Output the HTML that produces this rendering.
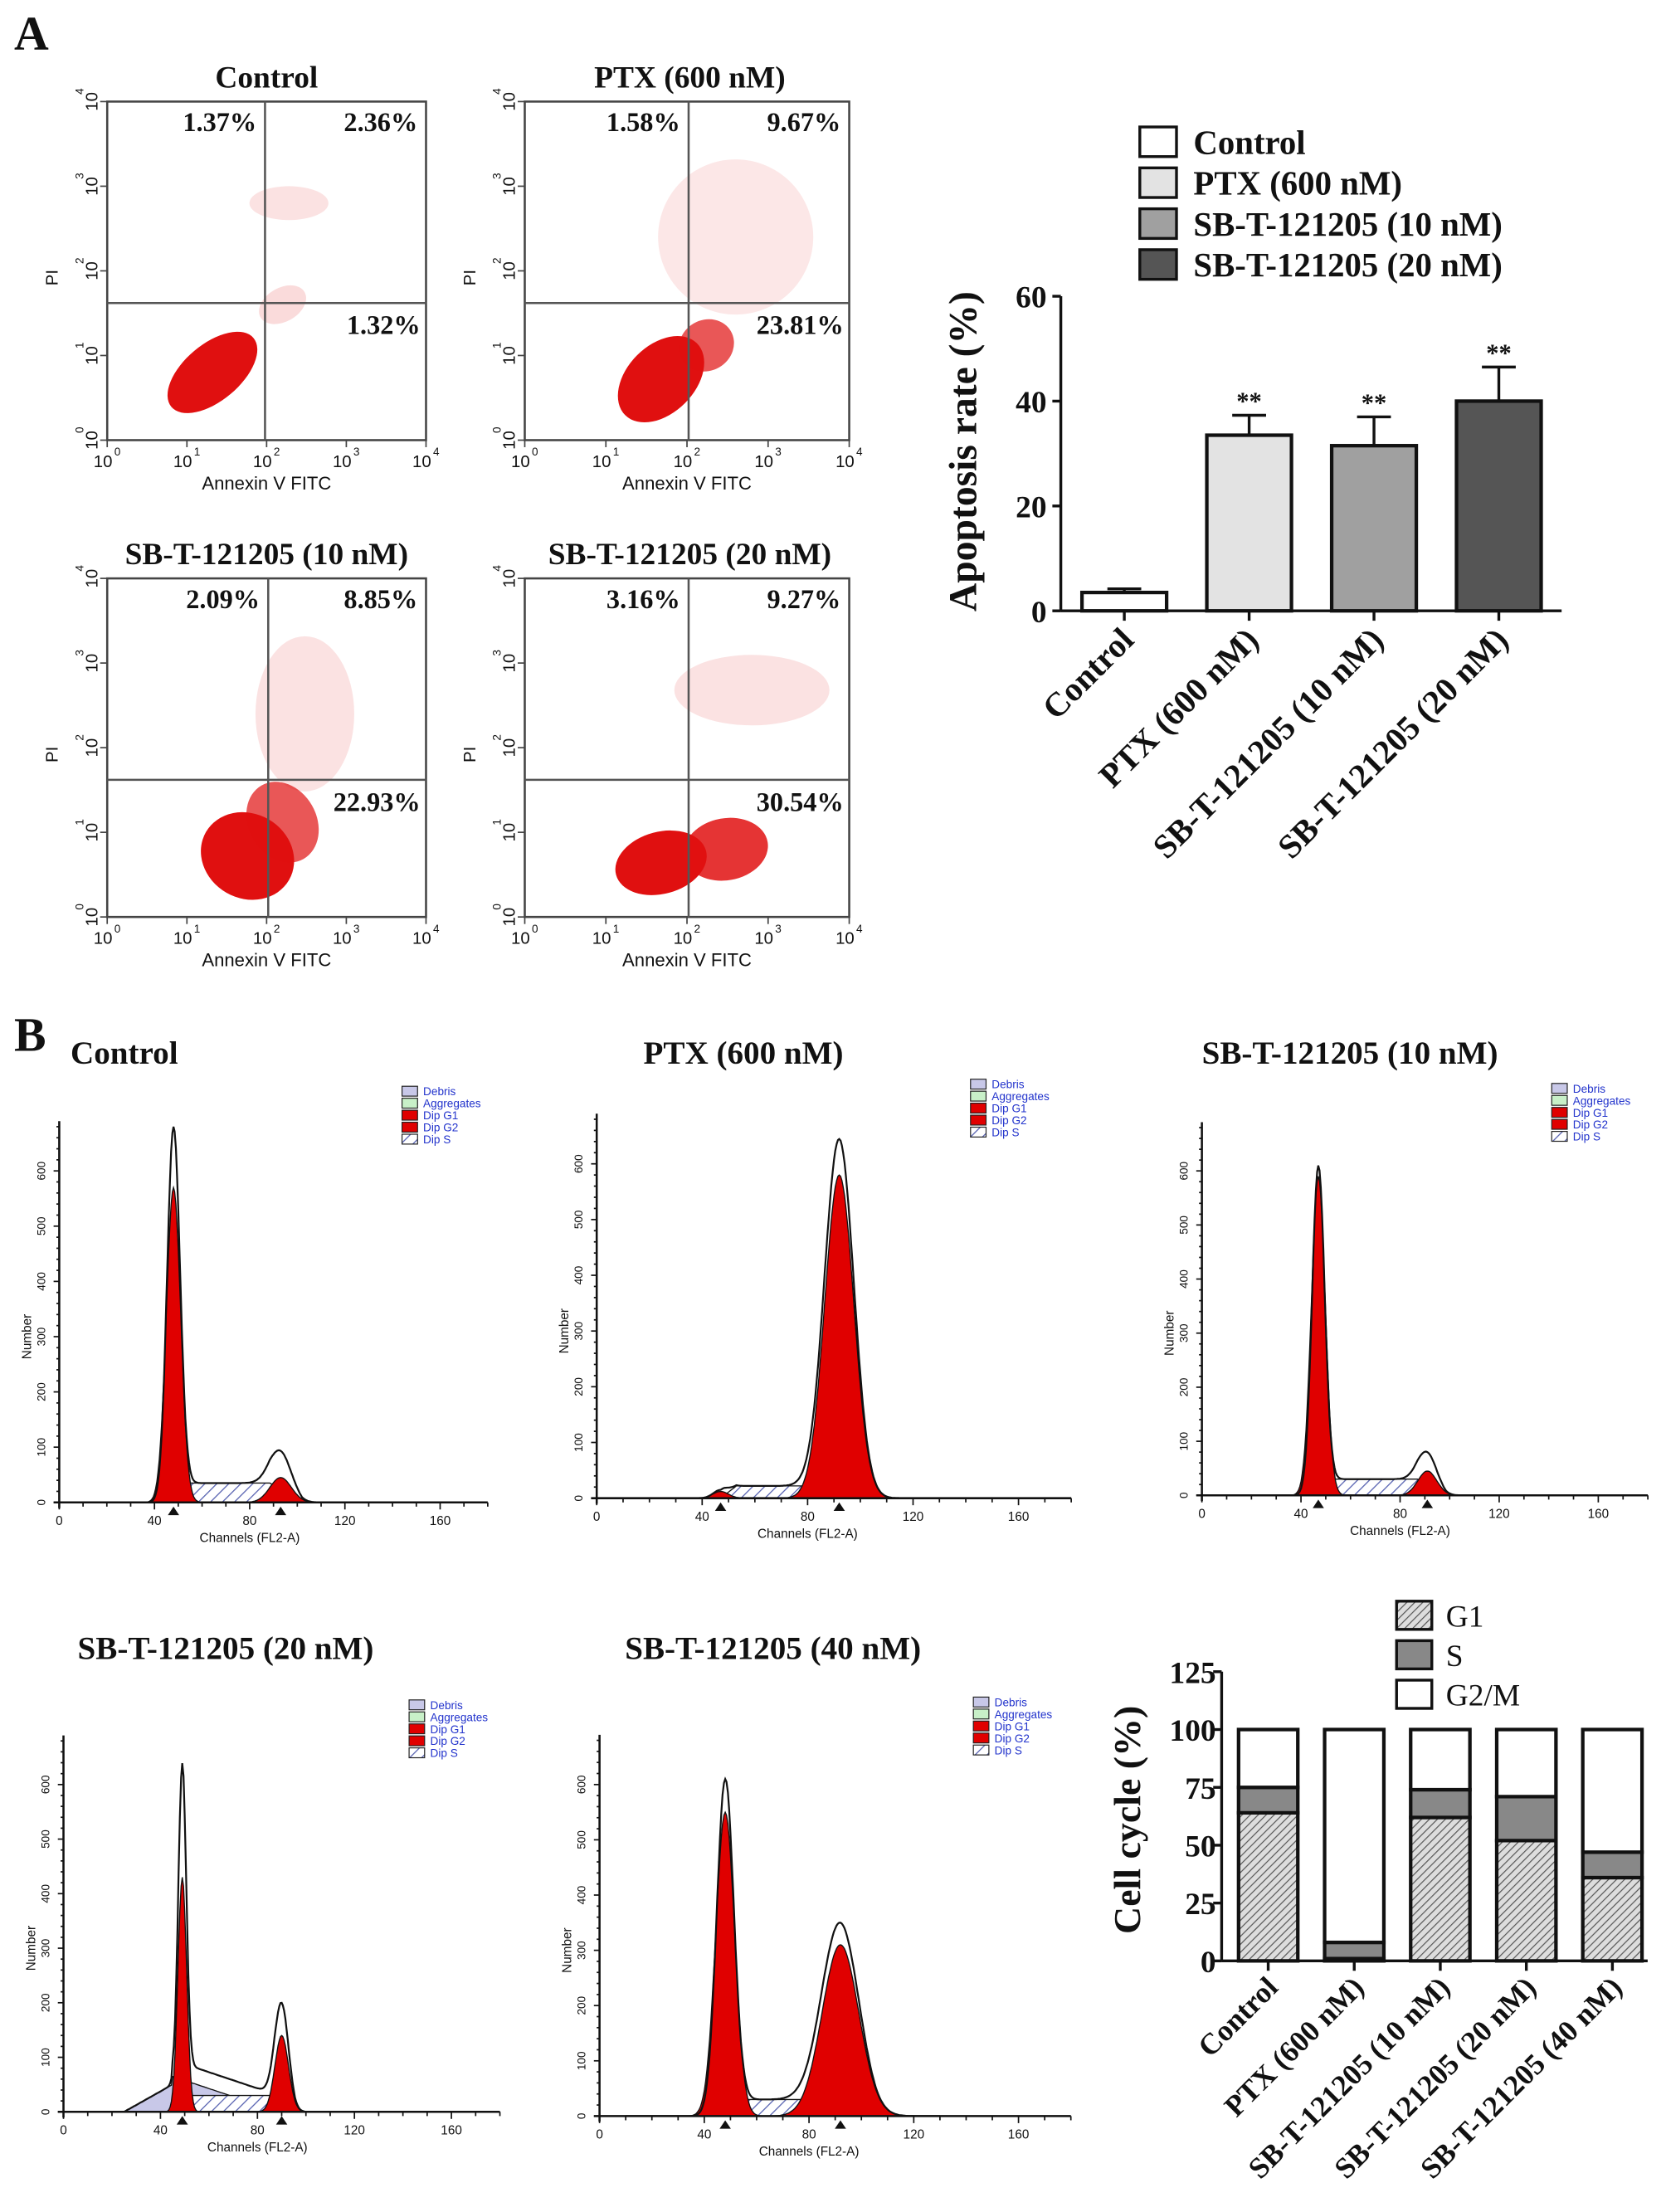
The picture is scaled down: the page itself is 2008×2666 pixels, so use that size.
<!DOCTYPE html>
<html><head><meta charset="utf-8"><style>
html,body{margin:0;padding:0;background:#fff;}
svg{display:block;}
.t{font-family:"Liberation Serif",serif;font-weight:bold;fill:#111;}
.s{font-family:"Liberation Sans",sans-serif;fill:#111;}
</style></head><body>
<svg id="fig" width="2008" height="2666" viewBox="0 0 1181 1568" preserveAspectRatio="none" xmlns="http://www.w3.org/2000/svg">
<defs>
<pattern id="hatch" width="4" height="4" patternUnits="userSpaceOnUse" patternTransform="rotate(45)"><rect width="4" height="4" fill="#ddd"/><line x1="0" y1="0" x2="0" y2="4" stroke="#555" stroke-width="1.4"/></pattern>
<pattern id="shatch" width="6" height="6" patternUnits="userSpaceOnUse" patternTransform="rotate(45)"><rect width="6" height="6" fill="#fff"/><line x1="0" y1="0" x2="0" y2="6" stroke="#5560b0" stroke-width="1.5"/></pattern>
</defs>
<text class="t" x="10" y="35" font-size="34">A</text>
<text class="t" x="10" y="745" font-size="34">B</text>
<g id="root"></g>
</svg>
<script>
// ---------- Data ----------
const flowTitles=["Control","PTX (600 nM)","SB-T-121205 (10 nM)","SB-T-121205 (20 nM)"];
const flowUL=["1.37%","1.58%","2.09%","3.16%"];
const flowUR=["2.36%","9.67%","8.85%","9.27%"];
const flowLR=["1.32%","23.81%","22.93%","30.54%"];
const apoCats=["Control","PTX (600 nM)","SB-T-121205 (10 nM)","SB-T-121205 (20 nM)"];
const apoVals=[3.5,33.5,31.5,40];
const apoErr=[0.7,3.8,5.5,6.5];
const apoFill=["#ffffff","#e3e3e3","#a0a0a0","#555555"];
const apoTicks=[0,20,40,60];
const histTitles=["Control","PTX (600 nM)","SB-T-121205 (10 nM)","SB-T-121205 (20 nM)","SB-T-121205 (40 nM)"];
const g1Pos=[48,47,47,49,48];
const g1Height=[570,12,590,430,550];
const g1Peak=[680,15,610,580,610];
const g1Sd=[3,3,2.8,1.8,3.6];
const g2Pos=[93,92,91,90,92];
const g2Height=[45,580,45,140,310];
const g2Peak=[70,630,60,180,330];
const g2Sd=[4.5,5.5,3.8,2.8,7];
const sLevel=[35,22,30,30,30];
const debrisLevel=[0,0,0,50,0];
const histTicksY=[0,100,200,300,400,500,600];
const histTicksX=[0,40,80,120,160];
const ccCats=["Control","PTX (600 nM)","SB-T-121205 (10 nM)","SB-T-121205 (20 nM)","SB-T-121205 (40 nM)"];
const ccG1=[64,1,62,52,36];
const ccS=[11,7,12,19,11];
const ccTicks=[0,25,50,75,100,125];

const NS="http://www.w3.org/2000/svg";
const root=document.getElementById('root');
function mk(tag,attrs,parent,txt){const e=document.createElementNS(NS,tag);for(const k in attrs)e.setAttribute(k,attrs[k]);if(txt!==undefined)e.textContent=txt;(parent||root).appendChild(e);return e;}

// ---------- Flow cytometry plots ----------
const flowBoxes=[[76,72,302,312],[372,72,602,312],[76,410,302,650],[372,410,602,650]];
const flowTitleX=[189,489,189,489];
const flowQX=[0.495,0.505,0.505,0.505];
const flowQY=[0.595,0.595,0.595,0.595];
const blobs=[
 [[0.33,0.80,38,20,-40,1],[0.55,0.60,18,12,-30,0.15],[0.57,0.30,28,12,0,0.12]],
 [[0.42,0.82,36,24,-45,1],[0.56,0.72,20,18,-30,0.7],[0.65,0.40,55,55,0,0.1]],
 [[0.44,0.82,30,34,-60,1],[0.55,0.72,24,30,-30,0.7],[0.62,0.40,35,55,0,0.12]],
 [[0.42,0.84,33,22,-15,1],[0.62,0.80,30,22,-10,0.85],[0.70,0.33,55,25,0,0.12]]];
flowBoxes.forEach((b,i)=>{
  const [x0,y0,x1,y1]=b;const w=x1-x0,h=y1-y0;
  const g=mk('g',{});
  
  
  blobs[i].forEach(([cx,cy,rx,ry,rot,op])=>{
    const e=mk('ellipse',{cx:x0+cx*w,cy:y0+cy*h,rx:rx,ry:ry,fill:'#e01010','fill-opacity':op,transform:`rotate(${rot} ${x0+cx*w} ${y0+cy*h})`},g);
    
    
  });
  mk('rect',{x:x0,y:y0,width:w,height:h,fill:'none',stroke:'#444','stroke-width':1.5},g);
  mk('line',{x1:x0+flowQX[i]*w,y1:y0,x2:x0+flowQX[i]*w,y2:y1,stroke:'#555','stroke-width':1.5},g);
  mk('line',{x1:x0,y1:y0+flowQY[i]*h,x2:x1,y2:y0+flowQY[i]*h,stroke:'#555','stroke-width':1.5},g);
  const t=mk('text',{class:'t',x:flowTitleX[i],y:y0-10,'font-size':22,'text-anchor':'middle'},g,flowTitles[i]);
  
  
  mk('text',{class:'t',x:x0+flowQX[i]*w-6,y:y0+21,'font-size':19,'text-anchor':'end'},g,flowUL[i]);
  mk('text',{class:'t',x:x1-6,y:y0+21,'font-size':19,'text-anchor':'end'},g,flowUR[i]);
  mk('text',{class:'t',x:x1-4,y:y0+flowQY[i]*h+22,'font-size':19,'text-anchor':'end'},g,flowLR[i]);
  for(let k=0;k<=4;k++){
    const xx=x0+k*w/4, yy=y1-k*h/4;
    mk('text',{class:'s',x:xx-3,y:y1+19,'font-size':12,'text-anchor':'middle'},g,'10');
    mk('text',{class:'s',x:xx+5,y:y1+11,'font-size':8},g,String(k));
    mk('text',{class:'s',x:x0-10,y:yy+3,'font-size':12,'text-anchor':'middle',transform:`rotate(-90 ${x0-10} ${yy})`},g,'10');
    mk('text',{class:'s',x:x0-17,y:yy-5,'font-size':8,transform:`rotate(-90 ${x0-17} ${yy-5})`},g,String(k));
    mk('line',{x1:xx,y1:y1,x2:xx,y2:y1+5,stroke:'#444'},g);
    mk('line',{x1:x0-5,y1:yy,x2:x0,y2:yy,stroke:'#444'},g);
  }
  mk('text',{class:'s',x:x0+w/2,y:y1+35,'font-size':13,'text-anchor':'middle'},g,'Annexin V FITC');
  mk('text',{class:'s',x:x0-35,y:y0+h*0.52,'font-size':12,'text-anchor':'middle',transform:`rotate(-90 ${x0-35} ${y0+h*0.52})`},g,'PI');
});

// ---------- Apoptosis bar chart ----------
(function(){
  const ax=752,ay0=433,ay1=210,max=60;
  const ys=v=>ay0-(v/max)*(ay0-ay1);
  const g=mk('g',{});
  
  
  const barX=c=>767+c*88.5, bw=60;
  apoVals.forEach((v,i)=>{
    const x=barX(i);
    mk('line',{x1:x+bw/2,y1:ys(v),x2:x+bw/2,y2:ys(v+apoErr[i]),stroke:'#111','stroke-width':2},g);
    mk('line',{x1:x+bw/2-12,y1:ys(v+apoErr[i]),x2:x+bw/2+12,y2:ys(v+apoErr[i]),stroke:'#111','stroke-width':2},g);
    const r=mk('rect',{x:x,y:ys(v),width:bw,height:ay0-ys(v),fill:apoFill[i],stroke:'#111','stroke-width':2.5},g);
    
    
    if(i>0) mk('text',{class:'t',x:x+bw/2,y:ys(v+apoErr[i])-4,'font-size':18,'text-anchor':'middle'},g,'**');
    mk('line',{x1:x+bw/2,y1:ay0,x2:x+bw/2,y2:ay0+7,stroke:'#111','stroke-width':2},g);
    const lx=x+bw/2+8,ly=ay0+22;
    const t=mk('text',{class:'t',x:lx,y:ly,'font-size':24,'text-anchor':'end',transform:`rotate(-45 ${lx} ${ly})`},g,apoCats[i]);
    
    
  });
  mk('line',{x1:ax,y1:ay0,x2:1107,y2:ay0,stroke:'#111','stroke-width':2},g);
  mk('line',{x1:ax,y1:ay1,x2:ax,y2:ay0,stroke:'#111','stroke-width':2},g);
  apoTicks.forEach(v=>{
    mk('line',{x1:ax-6,y1:ys(v),x2:ax,y2:ys(v),stroke:'#111','stroke-width':2},g);
    mk('text',{class:'t',x:ax-10,y:ys(v)+8,'font-size':22,'text-anchor':'end'},g,String(v));
  });
  const yl=mk('text',{class:'t',x:692,y:320,'font-size':28,'text-anchor':'middle',transform:'rotate(-90 692 320)'},g,'Apoptosis rate (%)');
  
  
  apoCats.forEach((c,i)=>{
    const y=90+i*29;
    const lr=mk('rect',{x:808,y:y,width:26,height:21,fill:apoFill[i],stroke:'#111','stroke-width':2},g);
    
    
    const lt=mk('text',{class:'t',x:846,y:y+19,'font-size':24},g,c);
    
    
  });
})();

// ---------- Histograms ----------
const histGeo=[[42,312,1065,830,50,746,285,770],[423,722,1062,825,527,746,688,765],[852,1133,1060,830,852,746,1100,768],[45,320,1497,1265,55,1168,290,1205],[425,722,1500,1265,443,1168,690,1203]];
const histAnchor=['start','middle','start','start','start'];
histTitles.forEach((title,i)=>{
  const [x0,x160,y0,y600,tx,ty,lx,ly]=histGeo[i];
  const xs=c=>x0+c*(x160-x0)/160, ys=v=>y0-v*(y0-y600)/600;
  const g=mk('g',{});
  
  
  const t=mk('text',{class:'t',x:tx,y:ty+8,'font-size':23,'text-anchor':histAnchor[i]},g,title);
  
  
  const gauss=(c,m,h,sd)=>h*Math.exp(-((c-m)*(c-m))/(2*sd*sd));
  const sFn=c=>{const a=g1Pos[i]+2*g1Sd[i],b=g2Pos[i]-1*g2Sd[i];if(c<g1Pos[i]||c>g2Pos[i]+2*g2Sd[i])return 0;if(c<a)return sLevel[i]*(c-g1Pos[i])/(a-g1Pos[i]);if(c>b)return sLevel[i]*Math.max(0,1-(c-b)/(3*g2Sd[i]));return sLevel[i];};
  const dFn=c=>{const L=debrisLevel[i];if(!L)return 0;if(c<25||c>90)return 0;if(c<45)return L*(c-25)/20;return L*(1-(c-45)/45)+15*(c<85?1:0)*(1-(c-45)/40);};
  function area(fn,fill,name){
    let d=`M${xs(10)},${ys(0)}`;
    for(let c=10;c<=130;c+=0.5)d+=`L${xs(c).toFixed(1)},${ys(fn(c)).toFixed(1)}`;
    d+=`L${xs(130)},${ys(0)}Z`;
    const p=mk('path',{d:d,fill:fill,stroke:'#111','stroke-width':0.8},g);
    
    
  }
  if(debrisLevel[i]) area(dFn,'#c8c8e8','debris-area');
  area(sFn,'url(#shatch)','s-phase-area');
  area(c=>gauss(c,g1Pos[i],g1Height[i],g1Sd[i]),'#e00000','g1-peak');
  area(c=>gauss(c,g2Pos[i],g2Height[i],g2Sd[i]),'#e00000','g2-peak');
  let d='';
  for(let c=10;c<=130;c+=0.5){const v=Math.max(gauss(c,g1Pos[i],g1Peak[i],g1Sd[i]*0.9),gauss(c,g2Pos[i],g2Peak[i],g2Sd[i]))+sFn(c)+dFn(c);d+=(c===10?'M':'L')+xs(c).toFixed(1)+','+ys(v).toFixed(1);}
  const ol=mk('path',{d:d,fill:'none',stroke:'#111','stroke-width':1.3},g);
  
  
  mk('line',{x1:x0-4,y1:y0,x2:xs(180),y2:y0,stroke:'#111','stroke-width':1.5},g);
  mk('line',{x1:x0,y1:y0+4,x2:x0,y2:ys(690),stroke:'#111','stroke-width':1.5},g);
  for(let v=0;v<=680;v+=20) mk('line',{x1:x0-(v%100?2:4),y1:ys(v),x2:x0,y2:ys(v),stroke:'#111'},g);
  for(let c=0;c<=180;c+=10) mk('line',{x1:xs(c),y1:y0,x2:xs(c),y2:y0+(c%40?3:5),stroke:'#111'},g);
  histTicksY.forEach(v=>mk('text',{class:'s',x:x0-10,y:ys(v),'font-size':8,'text-anchor':'middle',transform:`rotate(-90 ${x0-10} ${ys(v)})`},g,String(v)));
  histTicksX.forEach(c=>mk('text',{class:'s',x:xs(c),y:y0+16,'font-size':9,'text-anchor':'middle'},g,String(c)));
  mk('text',{class:'s',x:xs(80),y:y0+28,'font-size':9,'text-anchor':'middle'},g,'Channels (FL2-A)');
  mk('text',{class:'s',x:x0-20,y:ys(300),'font-size':9,'text-anchor':'middle',transform:`rotate(-90 ${x0-20} ${ys(300)})`},g,'Number');
  [g1Pos[i],g2Pos[i]].forEach(c=>mk('path',{d:`M${xs(c)-4},${y0+9}L${xs(c)+4},${y0+9}L${xs(c)},${y0+3}Z`,fill:'#111'},g));
  const labs=['Debris','Aggregates','Dip G1','Dip G2','Dip S'], fills=['#c8c8e8','#c8f0c8','#e00000','#e00000','url(#shatch)'];
  labs.forEach((l,k)=>{
    mk('rect',{x:lx,y:ly+k*8.5,width:11,height:7,fill:fills[k],stroke:'#222','stroke-width':0.7},g);
    mk('text',{class:'s',x:lx+15,y:ly+k*8.5+6.5,'font-size':8,style:'fill:#2233cc'},g,l);
  });
});

// ---------- Cell cycle stacked chart ----------
(function(){
  const ax=866,ay0=1390,ay1=1185,max=125;
  const ys=v=>ay0-(v/max)*(ay0-ay1);
  const g=mk('g',{});
  
  
  const bw=42, barX=c=>878+c*61;
  ccCats.forEach((c,i)=>{
    const x=barX(i);
    const segs=[[0,ccG1[i],'url(#hatch)','g1'],[ccG1[i],ccG1[i]+ccS[i],'#888','s'],[ccG1[i]+ccS[i],100,'#fff','g2m']];
    segs.forEach(([a,b,f,n])=>{
      const r=mk('rect',{x:x,y:ys(b),width:bw,height:ys(a)-ys(b),fill:f,stroke:'#111','stroke-width':2.5},g);
      
      
    });
    mk('line',{x1:x+bw/2,y1:ay0,x2:x+bw/2,y2:ay0+7,stroke:'#111','stroke-width':2},g);
    const lx=x+bw/2+8,ly=ay0+20;
    const t=mk('text',{class:'t',x:lx,y:ly,'font-size':21,'text-anchor':'end',transform:`rotate(-45 ${lx} ${ly})`},g,c);
    
    
  });
  mk('line',{x1:ax,y1:ay0,x2:1168,y2:ay0,stroke:'#111','stroke-width':2},g);
  mk('line',{x1:ax,y1:ay1,x2:ax,y2:ay0,stroke:'#111','stroke-width':2},g);
  ccTicks.forEach(v=>{
    mk('line',{x1:ax-6,y1:ys(v),x2:ax,y2:ys(v),stroke:'#111','stroke-width':2},g);
    mk('text',{class:'t',x:ax-4,y:ys(v)+8,'font-size':22,'text-anchor':'end'},g,String(v));
  });
  const yl=mk('text',{class:'t',x:808,y:1290,'font-size':27,'text-anchor':'middle',transform:'rotate(-90 808 1290)'},g,'Cell cycle (%)');
  
  
  const ln=['G1','S','G2/M'],lf=['url(#hatch)','#888','#fff'];
  ln.forEach((l,k)=>{
    const y=1135+k*28;
    const r=mk('rect',{x:990,y:y,width:25,height:20,fill:lf[k],stroke:'#111','stroke-width':2},g);
    
    
    const t=mk('text',{class:'s',x:1025,y:y+18,'font-size':22,style:'font-family:Liberation Serif,serif'},g,l);
    
    
  });
})();
</script>
</body></html>
